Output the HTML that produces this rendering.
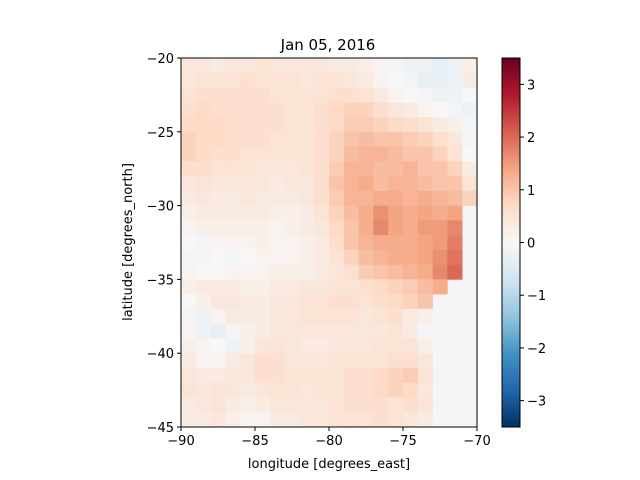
<!DOCTYPE html>
<html><head><meta charset="utf-8"><style>
body{margin:0;background:#fff;}
svg{display:block;font-family:"DejaVu Sans","Liberation Sans",sans-serif;}
</style></head><body>
<svg id="chart" width="640" height="480" viewBox="0 0 640 480">
<text x="328" y="50" font-size="15" text-anchor="middle">Jan 05, 2016</text>
<g id="cells"></g>
<rect x="181" y="58" width="296" height="369" fill="none" stroke="#000" stroke-width="1"/>
<g id="xaxis"></g>
<g id="yaxis"></g>
<text x="329" y="468" font-size="13" text-anchor="middle">longitude [degrees_east]</text>
<text x="0" y="0" font-size="13" text-anchor="middle" transform="translate(132,242) rotate(-90)">latitude [degrees_north]</text>
<defs><linearGradient id="cbg" x1="0" y1="1" x2="0" y2="0" id2="x"></linearGradient></defs>
<rect x="502" y="58" width="18" height="369" fill="url(#cbg)" stroke="#000" stroke-width="1"/>
<g id="cbaxis"></g>
</svg>
<script>
const lonStart = -90;
const latStart = -20;
const rows = [
[0.4,0.4,0.3,0.4,0.4,0.5,0.4,0.4,0.4,0.4,0.3,0.3,0.2,0.1,-0.1,-0.2,-0.2,-0.3,-0.2,0.2],
[0.4,0.5,0.5,0.5,0.6,0.5,0.5,0.5,0.4,0.5,0.5,0.4,0.3,0.1,0.0,-0.1,-0.3,-0.3,-0.2,0.3],
[0.5,0.6,0.6,0.6,0.6,0.6,0.5,0.5,0.5,0.5,0.6,0.6,0.5,0.3,0.1,0.0,-0.1,-0.2,-0.2,0.0],
[0.6,0.7,0.6,0.6,0.6,0.6,0.6,0.5,0.5,0.6,0.7,0.8,0.8,0.6,0.4,0.3,0.1,0.0,-0.1,-0.2],
[0.7,0.7,0.7,0.6,0.6,0.6,0.6,0.5,0.5,0.6,0.7,0.9,0.9,0.8,0.7,0.6,0.5,0.3,0.2,-0.1],
[0.8,0.7,0.7,0.6,0.6,0.6,0.5,0.5,0.5,0.6,0.8,1.0,1.1,1.0,1.0,0.9,0.8,0.6,0.4,-0.1],
[0.8,0.7,0.6,0.6,0.5,0.5,0.5,0.5,0.5,0.6,0.8,1.1,1.2,1.2,1.1,1.0,1.0,0.8,0.5,0.0],
[0.6,0.6,0.5,0.5,0.5,0.4,0.4,0.4,0.5,0.6,0.9,1.2,1.2,1.1,1.1,1.2,1.0,1.0,0.8,0.3],
[0.4,0.5,0.4,0.4,0.4,0.4,0.3,0.4,0.4,0.6,1.0,1.2,1.3,1.1,1.2,1.2,1.1,1.0,1.0,0.5],
[0.3,0.4,0.3,0.3,0.4,0.3,0.3,0.3,0.4,0.6,0.9,1.2,1.2,1.3,1.3,1.2,1.3,1.2,1.1,0.8],
[0.2,0.3,0.3,0.3,0.3,0.3,0.2,0.2,0.3,0.5,0.8,1.1,1.3,1.6,1.4,1.3,1.4,1.3,1.4,null],
[0.1,0.2,0.2,0.2,0.2,0.2,0.1,0.2,0.3,0.4,0.7,1.0,1.3,1.7,1.4,1.3,1.5,1.5,1.7,null],
[0.0,-0.1,0.1,0.1,0.1,0.2,0.1,0.1,0.2,0.3,0.6,1.0,1.2,1.3,1.3,1.3,1.4,1.5,1.8,null],
[-0.1,-0.1,0.0,-0.1,0.0,0.1,0.1,0.1,0.2,0.3,0.5,0.8,1.1,1.2,1.3,1.3,1.4,1.6,1.9,null],
[0.1,0.0,0.0,0.1,0.1,0.1,0.2,0.2,0.2,0.3,0.4,0.6,0.9,1.0,1.1,1.2,1.3,1.7,2.0,null],
[0.2,0.3,0.3,0.3,0.2,0.2,0.3,0.3,0.4,0.4,0.5,0.5,0.6,0.7,0.8,0.9,1.1,1.3,null,null],
[0.0,0.2,0.4,0.4,0.3,0.3,0.4,0.4,0.5,0.5,0.6,0.6,0.5,0.6,0.7,0.8,1.0,null,null,null],
[-0.1,-0.2,0.1,0.3,0.3,0.3,0.4,0.4,0.5,0.5,0.5,0.5,0.4,0.5,0.6,0.3,0.2,null,null,null],
[0.1,-0.2,-0.3,0.1,0.2,0.3,0.4,0.4,0.4,0.4,0.4,0.4,0.4,0.4,0.5,0.3,-0.1,null,null,null],
[0.2,0.1,0.0,-0.2,0.2,0.4,0.5,0.4,0.3,0.3,0.4,0.4,0.4,0.5,0.5,0.5,0.2,null,null,null],
[0.3,0.1,0.1,0.3,0.4,0.6,0.6,0.4,0.4,0.4,0.5,0.5,0.5,0.5,0.6,0.6,0.4,null,null,null],
[0.4,0.3,0.3,0.4,0.4,0.6,0.6,0.5,0.5,0.5,0.5,0.6,0.6,0.7,0.8,0.9,0.5,null,null,null],
[0.5,0.4,0.5,0.4,0.3,0.4,0.5,0.5,0.4,0.5,0.5,0.6,0.6,0.7,0.8,0.7,0.4,null,null,null],
[0.3,0.4,0.5,0.3,0.2,0.3,0.4,0.4,0.4,0.4,0.5,0.6,0.6,0.6,0.5,0.6,0.5,null,null,null],
[0.3,0.3,0.4,0.2,0.1,0.1,0.3,0.3,0.4,0.4,0.5,0.5,0.5,0.6,0.5,0.4,0.3,null,null,null]
];
const xTicks = [-90,-85,-80,-75,-70];
const yTicks = [-20,-25,-30,-35,-40,-45];
const cbTicks = [-3,-2,-1,0,1,2,3];
const vmin = -3.5, vmax = 3.5;

const X0=181,X1=477,Y0=58,Y1=427;
const xScale = lon => X0 + (lon - (-90)) / 20 * (X1-X0);
const yScale = lat => Y0 + ((-20) - lat) / 25 * (Y1-Y0);
const cbScale = v => Y1 - (v - vmin)/(vmax-vmin)*(Y1-Y0);
const stops = ["#053061","#2166ac","#4393c3","#92c5de","#d1e5f0","#f7f7f7","#fddbc7","#f4a582","#d6604d","#b2182b","#67001f"];
function hex(h){return [1,3,5].map(i=>parseInt(h.substr(i,2),16));}
function cmap(v){
  let t=(v-vmin)/(vmax-vmin)*(stops.length-1);
  t=Math.max(0,Math.min(stops.length-1,t));
  const i=Math.min(Math.floor(t),stops.length-2), f=t-i;
  const a=hex(stops[i]), b=hex(stops[i+1]);
  return "rgb("+a.map((c,k)=>Math.round(c+(b[k]-c)*f)).join(",")+")";
}
const NS="http://www.w3.org/2000/svg";
function mk(tag,attrs,parent){const e=document.createElementNS(NS,tag);for(const k in attrs)e.setAttribute(k,attrs[k]);parent.appendChild(e);return e;}
const cells=document.getElementById('cells');
mk('rect',{x:X0,y:Y0,width:X1-X0,height:Y1-Y0,fill:'#f5f5f5'},cells);
rows.forEach((row,r)=>{
  row.forEach((v,c)=>{
    if(v===null) return;
    const lon=lonStart+c, lat=latStart-r;
    const x=xScale(lon), y=yScale(lat);
    const el=mk('rect',{x:x,y:y,width:xScale(lon+1)-x+0.3,height:yScale(lat-1)-y+0.3,fill:cmap(v)},cells);
    
    
  });
});
const xa=document.getElementById('xaxis');
xTicks.forEach(t=>{
  const x=xScale(t);
  mk('line',{x1:x,x2:x,y1:Y1,y2:Y1+4,stroke:'#000'},xa);
  const tx=mk('text',{x:x,y:Y1+18,'font-size':13,'text-anchor':'middle'},xa);
  tx.textContent=t.toString().replace('-','\u2212');
  
  
});
const ya=document.getElementById('yaxis');
yTicks.forEach(t=>{
  const y=yScale(t);
  mk('line',{x1:X0-4,x2:X0,y1:y,y2:y,stroke:'#000'},ya);
  const tx=mk('text',{x:X0-7,y:y+5,'font-size':13,'text-anchor':'end'},ya);
  tx.textContent=t.toString().replace('-','\u2212');
  
  
});
const g=document.getElementById('cbg');
stops.forEach((s,i)=>mk('stop',{offset:(i/(stops.length-1)),'stop-color':s},g));
const cb=document.getElementById('cbaxis');
cbTicks.forEach(t=>{
  const y=cbScale(t);
  mk('line',{x1:520,x2:524,y1:y,y2:y,stroke:'#000'},cb);
  const tx=mk('text',{x:527,y:y+5,'font-size':13,'text-anchor':'start'},cb);
  tx.textContent=t.toString().replace('-','\u2212');
  
  
});
</script>
</body></html>
